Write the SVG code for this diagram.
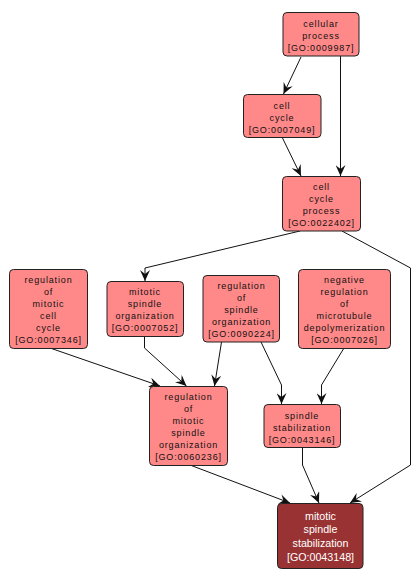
<svg xmlns="http://www.w3.org/2000/svg" width="420" height="583" viewBox="0 0 420 583">
<style>
.n rect{fill:#ff8888;stroke:#222;stroke-width:1}
.n text{font-family:"Liberation Sans",Arial,sans-serif;font-size:9px;letter-spacing:0.85px;fill:#111;text-anchor:middle}
.d rect{fill:#993333;stroke:#222;stroke-width:1}
.d text{font-family:"Liberation Sans",Arial,sans-serif;font-size:10.7px;fill:#fff;text-anchor:middle}
.e path{fill:none;stroke:#111;stroke-width:1;marker-end:url(#ah)}
</style>
<defs>
<marker id="ah" markerUnits="userSpaceOnUse" markerWidth="12" markerHeight="10" refX="11" refY="5" orient="auto" viewBox="0 0 12 10">
<path d="M0,0 L11,5 L0,10 L4,5 z" fill="#111"/>
</marker>
</defs>
<rect width="420" height="583" fill="#fff"/>
<g class="e" id="edges">
<path d="M301,57 L283.5,94"/>
<path d="M340.5,56 L340.5,176"/>
<path d="M282,137 L301,176"/>
<path d="M300,231 L145,268 L145,281"/>
<path d="M342,231 L410.5,268 L410.5,465 L350,503"/>
<path d="M50,348 L160,386"/>
<path d="M144.5,336 L144.5,348 L186.5,386"/>
<path d="M221.5,342 L214.5,386"/>
<path d="M261,342 L281.5,385 L281.5,404"/>
<path d="M344,348 L321.5,385 L321.5,404"/>
<path d="M302.5,447 L302.5,465 L319,503"/>
<path d="M190,465 L290,503"/>
</g>
<g class="n" id="GO0009987">
<rect x="283" y="12.5" width="76" height="43.5" rx="4"/>
<text x="321" y="26.5">cellular</text><text x="321" y="38.5">process</text><text x="321" y="50.5">[GO:0009987]</text>
</g>
<g class="n" id="GO0007049">
<rect x="243.5" y="94.5" width="77.5" height="43" rx="4"/>
<text x="282" y="108.5">cell</text><text x="282" y="120.5">cycle</text><text x="282" y="132.5">[GO:0007049]</text>
</g>
<g class="n" id="GO0022402">
<rect x="282.5" y="176.5" width="78" height="54.5" rx="4"/>
<text x="321.5" y="190">cell</text><text x="321.5" y="202">cycle</text><text x="321.5" y="214">process</text><text x="321.5" y="226">[GO:0022402]</text>
</g>
<g class="n" id="GO0007346">
<rect x="9.5" y="269.5" width="78" height="79" rx="4"/>
<text x="48.5" y="283">regulation</text><text x="48.5" y="295">of</text><text x="48.5" y="307">mitotic</text><text x="48.5" y="319">cell</text><text x="48.5" y="331">cycle</text><text x="48.5" y="343">[GO:0007346]</text>
</g>
<g class="n" id="GO0007052">
<rect x="107" y="281.5" width="76.5" height="55" rx="4"/>
<text x="145" y="295">mitotic</text><text x="145" y="307">spindle</text><text x="145" y="319">organization</text><text x="145" y="331">[GO:0007052]</text>
</g>
<g class="n" id="GO0090224">
<rect x="203" y="275.5" width="76.5" height="66.5" rx="4"/>
<text x="241.5" y="289">regulation</text><text x="241.5" y="301">of</text><text x="241.5" y="313">spindle</text><text x="241.5" y="325">organization</text><text x="241.5" y="337">[GO:0090224]</text>
</g>
<g class="n" id="GO0007026">
<rect x="298.5" y="269.5" width="92" height="79" rx="4"/>
<text x="344.5" y="283">negative</text><text x="344.5" y="295">regulation</text><text x="344.5" y="307">of</text><text x="344.5" y="319">microtubule</text><text x="344.5" y="331">depolymerization</text><text x="344.5" y="343">[GO:0007026]</text>
</g>
<g class="n" id="GO0060236">
<rect x="149.5" y="386.5" width="78" height="79" rx="4"/>
<text x="188.5" y="400">regulation</text><text x="188.5" y="412">of</text><text x="188.5" y="424">mitotic</text><text x="188.5" y="436">spindle</text><text x="188.5" y="448">organization</text><text x="188.5" y="460">[GO:0060236]</text>
</g>
<g class="n" id="GO0043146">
<rect x="264" y="404.5" width="76.5" height="43" rx="4"/>
<text x="302" y="418.5">spindle</text><text x="302" y="430.5">stabilization</text><text x="302" y="442.5">[GO:0043146]</text>
</g>
<g class="d" id="GO0043148">
<rect x="277.5" y="503.5" width="85.5" height="65" rx="4"/>
<text x="320.5" y="519.5">mitotic</text><text x="320.5" y="533">spindle</text><text x="320.5" y="547">stabilization</text><text x="320.5" y="560.5">[GO:0043148]</text>
</g>
</svg>
